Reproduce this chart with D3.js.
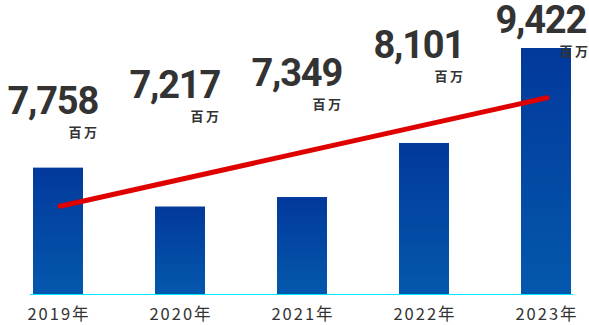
<!DOCTYPE html>
<html>
<head>
<meta charset="utf-8">
<script src="https://cdn.jsdelivr.net/npm/d3@7"></script>
<style>
  html, body { margin: 0; padding: 0; background: #fff; }
  svg { display: block; }
</style>
</head>
<body>
<svg id="chart" width="589" height="325"></svg>
<script>
// data
const years = ["2019年", "2020年", "2021年", "2022年", "2023年"];
const sales = [7758, 7217, 7349, 8101, 9422];
const unitLabel = "百万";
// decorative trend line, start / end values
const trendValues = [7220, 8730];

// label baselines were placed by hand in the original
const labelBaseline = [114, 98, 86, 58, 33];

const width = 589, height = 325;
const baseY = 294, barW = 50;

const svg = d3.select("#chart");

const defs = svg.append("defs");
const grad = defs.append("linearGradient")
    .attr("id", "barGrad")
    .attr("x1", 0).attr("y1", 0).attr("x2", 0).attr("y2", 1);
grad.append("stop").attr("offset", "0%").attr("stop-color", "#02399b");
grad.append("stop").attr("offset", "100%").attr("stop-color", "#0458ad");

const x = d3.scalePoint()
    .domain(years)
    .range([58, 546]);

const y = d3.scaleLinear()
    .domain([6000, 9422])
    .range([baseY, 48]);

// bars
svg.append("g").selectAll("rect")
    .data(sales)
    .join("rect")
    .attr("x", (d, i) => x(years[i]) - barW / 2)
    .attr("y", d => y(d))
    .attr("width", barW)
    .attr("height", d => baseY - y(d))
    .attr("fill", "url(#barGrad)");

// baseline
svg.append("line")
    .attr("x1", 30).attr("x2", 573)
    .attr("y1", baseY + 0.5).attr("y2", baseY + 0.5)
    .attr("stroke", "#00e8ff")
    .attr("stroke-width", 1.2);

// red trend line
svg.append("line")
    .attr("x1", x(years[0]) + 2)
    .attr("y1", y(trendValues[0]))
    .attr("x2", x(years[years.length - 1]) + 1)
    .attr("y2", y(trendValues[1]))
    .attr("stroke", "#df0000")
    .attr("stroke-width", 5)
    .attr("stroke-linecap", "round");

// value labels
const labels = svg.append("g");
labels.selectAll("text.val")
    .data(sales)
    .join("text")
    .attr("class", "val")
    .attr("x", (d, i) => x(years[i]) + 40)
    .attr("y", (d, i) => labelBaseline[i])
    .attr("text-anchor", "end")
    .attr("font-family", "Roboto, sans-serif")
    .attr("font-weight", "bold")
    .attr("font-size", 38)
    .attr("letter-spacing", -1.2)
    .attr("fill", "#333")
    .text(d => d3.format(",")(d));

labels.selectAll("text.unit")
    .data(sales)
    .join("text")
    .attr("class", "unit")
    .attr("x", (d, i) => x(years[i]) + 39 + (i == 4 ? 3 : 0))
    .attr("y", (d, i) => labelBaseline[i] + 23)
    .attr("text-anchor", "end")
    .attr("font-family", "'Noto Sans CJK JP', sans-serif")
    .attr("font-weight", "bold")
    .attr("font-size", 13)
    .attr("fill", "#333")
    .text(unitLabel.split("").join("\u2009"));

// x axis labels
svg.append("g").selectAll("text")
    .data(years)
    .join("text")
    .attr("x", d => x(d) + 1)
    .attr("y", 320)
    .attr("text-anchor", "middle")
    .attr("font-family", "'Noto Sans CJK JP', sans-serif")
    .attr("font-size", 16.5)
    .attr("letter-spacing", 2)
    .attr("fill", "#333")
    .text(d => d);
</script>
</body>
</html>
